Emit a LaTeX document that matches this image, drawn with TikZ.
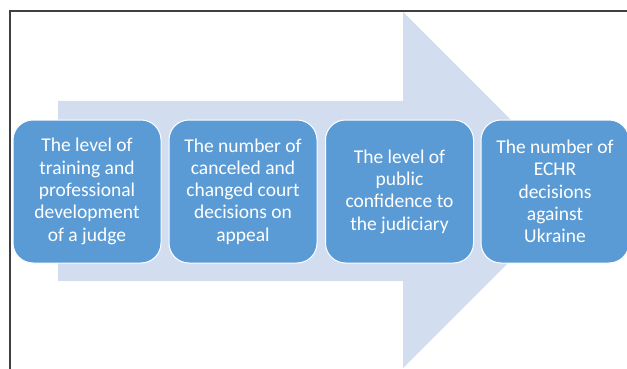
\documentclass[tikz,border=0pt]{standalone}
\usepackage{fontspec}
\setmainfont{Carlito}
\definecolor{boxblue}{HTML}{5B9BD5}
\definecolor{arrowblue}{HTML}{D2DEEF}
\definecolor{bordergray}{HTML}{404040}
\begin{document}
\begin{tikzpicture}[x=1pt,y=-1pt,
  stepbox/.style={draw=white, line width=1pt, fill=boxblue, rounded corners=20pt,
    minimum width=148pt, minimum height=143pt, text=white, align=center,
    font=\fontsize{19.5}{22.3}\selectfont, inner sep=0pt},
  framelines/.style={draw=bordergray, line width=2pt}
]
\useasboundingbox (0,0) rectangle (627,369);
\fill[arrowblue] (58,101) -- (403,101) -- (403,12) -- (581,190) -- (403,368) -- (403,281) -- (58,281) -- cycle;
\draw[framelines] (627,11) -- (9.5,11) -- (9.5,369);
\node[stepbox] (b1) at (87,191.5) {The level of\\training and\\professional\\development\\of a judge};
\node[stepbox] (b2) at (243,191.5) {The number of\\canceled and\\changed court\\decisions on\\appeal};
\node[stepbox] (b3) at (399.5,191.5) {The level of\\public\\confidence to\\the judiciary};
\node[stepbox] (b4) at (555,191.5) {The number of\\ECHR\\decisions\\against\\Ukraine};
\end{tikzpicture}
\end{document}
